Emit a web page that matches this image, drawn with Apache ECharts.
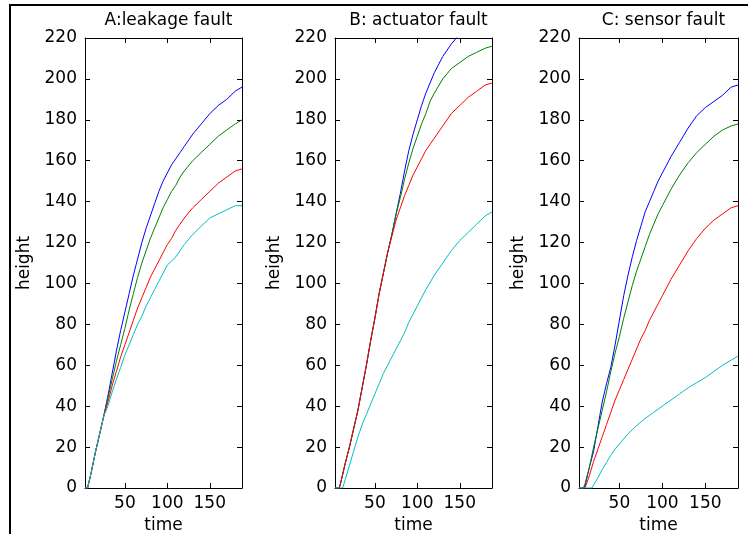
<!DOCTYPE html>
<html>
<head>
<meta charset="utf-8">
<script src="https://cdn.jsdelivr.net/npm/echarts@6/dist/echarts.min.js"></script>
<style>
html,body{margin:0;padding:0;background:#fff;}
#chart{width:748px;height:534px;}
</style>
</head>
<body>
<div id="chart"></div>
<script>
// ---- data ----
var panelTitles = ['A:leakage fault', 'B: actuator fault', 'C: sensor fault'];
var xTickValues = [50, 100, 150];
var seriesColors = ['#0000ff', '#008000', '#ff0000', '#00bfbf'];

// Panel A
var timeA = [3,6,10,15,20,25,30,35,40,45,50,55,60,65,70,75,80,85,90,95,100,105,110,115,120,130,140,150,160,170,180,188];
var blueA  = [0,0,7,17,26,35,45,56,67,77,86,95,104,112,120,127,133,139,145,150,154,158,161,164,167,173,178,183,187,190,194,196];
var greenA = [0,0,7,17,26,35,44,53,62,70,78,87,95,103,110,116,122,127,132,137,141,145,148,152,155,160,164,168,172,175,178,180];
var redA   = [0,0,7,17,26,35,42,50,57,64,70,76,82,88,93,98,103,107,111,115,119,122,126,129,132,137,141,145,149,152,155,156];
var cyanA  = [0,0,7,17,26,35,40,47,53,59,65,70,75,80,84,89,93,97,101,105,109,111,113,116,119,124,128,132,134,136,138,138];

// Panel B
var timeB = [3,8,10,15,20,25,30,35,40,45,50,55,60,65,70,75,80,85,90,95,100,105,110,115,120,130,140,150,160,170,180,188];
var blueB  = [0,0,3,12,20,29,38,49,60,72,83,95,105,115,124,134,144,155,165,173,180,187,193,198,203,211,217,222,226,229,232,234];
var greenB = [0,0,3,12,20,29,38,49,60,72,83,95,105,115,124,134,142,151,159,166,172,178,183,189,193,200,205,208,211,213,215,216];
var redB   = [0,0,3,12,20,29,38,49,60,72,83,95,105,115,123,131,137,143,148,153,157,161,165,168,171,177,183,187,191,194,197,198];
var timeCyanB = [3,12,15,20,25,30,35,40,45,50,55,60,65,70,75,80,85,90,95,100,110,120,130,140,150,160,170,180,188];
var cyanB  = [0,0,4,11,18,25,31,36,41,46,51,56,60,64,68,72,76,81,85,89,97,104,110,116,121,125,129,133,135];

// Panel C
var timeC = [3,8,10,15,20,25,30,35,40,45,50,55,60,65,70,75,80,85,90,95,100,110,120,130,140,150,160,170,180,188];
var blueC  = [0,0,1,10,18,30,42,51,59,70,82,94,104,113,121,128,135,140,145,150,154,162,169,176,182,186,189,192,196,197];
var greenC = [0,0,2,10,20,29,38,47,57,66,74,83,91,99,106,112,118,124,129,134,138,146,153,159,164,168,172,175,177,178];
var timeRedC = [3,10,15,20,25,30,35,40,45,50,55,60,65,70,75,80,85,90,95,100,110,120,130,140,150,160,170,180,188];
var redC   = [0,0,6,13,19,25,31,37,43,48,53,58,63,68,73,77,82,86,90,94,102,109,116,122,127,131,134,137,138];
var timeCyanC = [3,18,20,25,30,35,40,45,50,55,60,65,70,75,80,85,90,95,100,110,120,130,140,150,160,170,180,188];
var cyanC  = [0,0,1.5,5,9,12.5,16,19,21.5,24,26.5,28.5,30.5,32.3,34,35.5,37,38.5,40,43,46,49,51.5,54,57,60,62.5,64.5];

var panels = [
  { lines: [[timeA, blueA], [timeA, greenA], [timeA, redA], [timeA, cyanA]] },
  { lines: [[timeB, blueB], [timeB, greenB], [timeB, redB], [timeCyanB, cyanB]] },
  { lines: [[timeC, blueC], [timeC, greenC], [timeRedC, redC], [timeCyanC, cyanC]] }
];

// ---- layout ----
var FONT = 'DejaVu Sans';
var gridBoxes = [
  { left: 85, width: 157 },
  { left: 335, width: 157 },
  { left: 579, width: 159 }
];
var TOP = 38, BOTTOM = 46;

var chart = echarts.init(document.getElementById('chart'), null, { renderer: 'canvas' });

var grid = [], xAxis = [], yAxis = [], series = [], title = [];
gridBoxes.forEach(function (g, i) {
  grid.push({ left: g.left, width: g.width, top: TOP, bottom: BOTTOM, containLabel: false, outerBoundsMode: 'none' });
  title.push({
    text: panelTitles[i],
    left: g.left + g.width / 2,
    top: 7,
    textAlign: 'center',
    textStyle: { fontFamily: FONT, fontSize: 17, fontWeight: 'normal', color: '#000' }
  });
  var axLine = { show: true, onZero: false, lineStyle: { color: '#000', width: 1 } };
  xAxis.push({
    type: 'value', gridIndex: i, min: 3, max: 188, position: 'bottom',
    name: 'time', nameLocation: 'middle', nameGap: 29,
    nameTextStyle: { fontFamily: FONT, fontSize: 17, color: '#000' },
    axisLine: axLine,
    axisTick: { show: true, inside: true, length: 5, customValues: xTickValues, lineStyle: { color: '#000' } },
    axisLabel: { show: true, customValues: xTickValues, fontFamily: FONT, fontSize: 17, color: '#000', margin: 7 },
    splitLine: { show: false }
  });
  xAxis.push({
    type: 'value', gridIndex: i, min: 3, max: 188, position: 'top',
    axisLine: axLine,
    axisTick: { show: true, inside: true, length: 5, customValues: xTickValues, lineStyle: { color: '#000' } },
    axisLabel: { show: false },
    splitLine: { show: false }
  });
  yAxis.push({
    type: 'value', gridIndex: i, min: 0, max: 220, interval: 20, position: 'left',
    name: 'height', nameLocation: 'middle', nameGap: 52, nameRotate: 90,
    nameTextStyle: { fontFamily: FONT, fontSize: 17, color: '#000' },
    axisLine: axLine,
    axisTick: { show: true, inside: true, length: 5, lineStyle: { color: '#000' } },
    axisLabel: { show: true, fontFamily: FONT, fontSize: 17, color: '#000', margin: 8 },
    splitLine: { show: false }
  });
  yAxis.push({
    type: 'value', gridIndex: i, min: 0, max: 220, interval: 20, position: 'right',
    axisLine: axLine,
    axisTick: { show: true, inside: true, length: 5, lineStyle: { color: '#000' } },
    axisLabel: { show: false },
    splitLine: { show: false }
  });
  panels[i].lines.forEach(function (ln, k) {
    var t = ln[0], v = ln[1];
    series.push({
      type: 'line',
      xAxisIndex: 2 * i, yAxisIndex: 2 * i,
      data: t.map(function (tt, j) { return [tt, v[j]]; }),
      showSymbol: false, symbol: 'none',
      clip: true, silent: true,
      lineStyle: { color: seriesColors[k], width: 1 },
      itemStyle: { color: seriesColors[k] }
    });
  });
});

chart.setOption({
  backgroundColor: '#fff',
  animation: false,
  title: title,
  grid: grid,
  xAxis: xAxis,
  yAxis: yAxis,
  series: series,
  graphic: [{
    type: 'rect',
    shape: { x: 10, y: 5, width: 760, height: 560 },
    style: { fill: 'none', stroke: '#000', lineWidth: 2 },
    silent: true
  }]
});
</script>
</body>
</html>
